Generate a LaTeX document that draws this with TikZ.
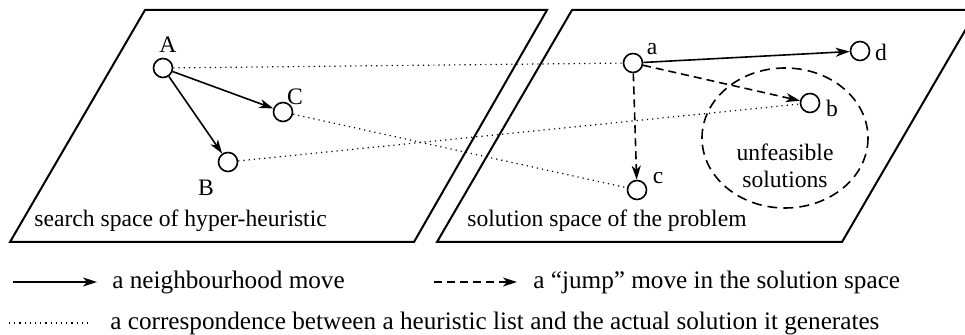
\documentclass[tikz,border=0pt]{standalone}
\usepackage{fontspec}
\setmainfont{Liberation Serif}
\usetikzlibrary{arrows.meta}

\begin{document}
\begin{tikzpicture}[x=0.5pt, y=-0.5pt, >={Stealth[length=7pt,width=4.5pt,inset=2pt]},
  every node/.style={font=\fontsize{11.8}{13.5}\selectfont, inner sep=0pt},
  pt/.style={draw, circle, line width=0.8pt, minimum size=9.5pt},
  keytext/.style={anchor=west, font=\fontsize{12.6}{14}\selectfont},
  nbmove/.style={->, line width=0.8pt},
  jump/.style={->, line width=0.8pt, dash pattern=on 4pt off 2.5pt},
  corr/.style={line width=0.6pt, dotted}]
\useasboundingbox (0,0) rectangle (965,335);
% the two spaces
\draw[line width=1pt] (145,10) -- (547,10) -- (414,242) -- (10,242) -- cycle;
\draw[line width=1pt] (572,10) -- (977,10) -- (842,242) -- (437,242) -- cycle;
\node[anchor=west] (hhlabel) at (34,221) {search space of hyper-heuristic};
\node[anchor=west] (sollabel) at (467,221) {solution space of the problem};
% unfeasible region
\draw[line width=0.8pt, dash pattern=on 5pt off 3pt] (785,138) ellipse [x radius=83, y radius=70];
\node[align=center] (unf) at (785,166) {unfeasible\\solutions};
% points
\node[pt] (hA) at (163,68) {};
\node[pt] (hB) at (228,162) {};
\node[pt] (hC) at (283,112) {};
\node[pt] (sa) at (633,63) {};
\node[pt] (sb) at (810,103) {};
\node[pt] (sc) at (637,190) {};
\node[pt] (sd) at (860,51) {};
\node (lA) at (168,45) {A};
\node (lB) at (206,188) {B};
\node (lC) at (295,97) {C};
\node (la) at (652,49) {a};
\node (lb) at (832,108) {b};
\node (lc) at (658,178) {c};
\node (ld) at (881,52) {d};
% moves
\draw[nbmove] (hA) -- (hC);
\draw[nbmove] (hA) -- (hB);
\draw[nbmove] (sa) -- (sd);
\draw[jump] (sa) -- (sb);
\draw[jump] (sa) -- (sc);
% correspondences
\draw[corr] (hA) -- (sa);
\draw[corr] (hC) -- (sc);
\draw[corr] (hB) -- (sb);
% legend
\coordinate (k1s) at (13,282);
\coordinate (k1e) at (97,282);
\coordinate (k2s) at (434,282);
\coordinate (k2e) at (517,282);
\coordinate (k3s) at (9,323);
\coordinate (k3e) at (91,323);
\draw[nbmove] (k1s) -- (k1e);
\draw[jump] (k2s) -- (k2e);
\draw[corr] (k3s) -- (k3e);
\node[keytext] (key1) at (112,282) {a neighbourhood move};
\node[keytext] (key2) at (533,282) {a “jump” move in the solution space};
\node[keytext] (key3) at (110,323) {a correspondence between a heuristic list and the actual solution it generates};
\end{tikzpicture}
\end{document}
